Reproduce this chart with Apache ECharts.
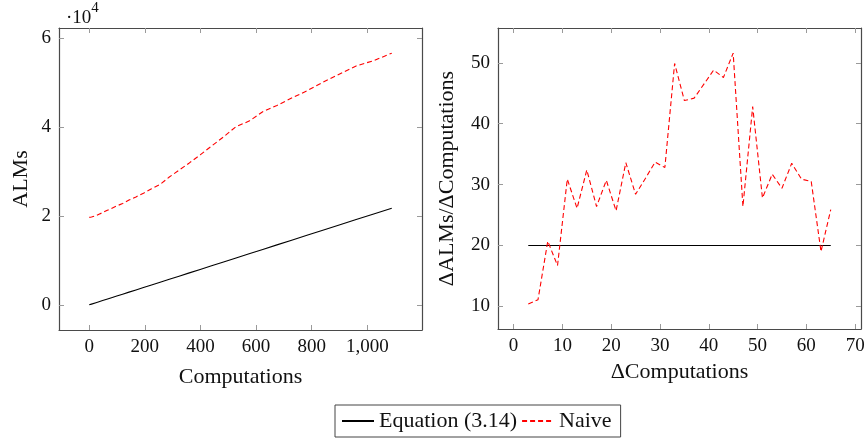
<!DOCTYPE html>
<html>
<head>
<meta charset="utf-8">
<script src="https://cdn.jsdelivr.net/npm/echarts@6/dist/echarts.min.js"></script>
<style>
  html, body { margin: 0; padding: 0; background: #fff; }
  #chart { width: 868px; height: 441px; }
</style>
</head>
<body>
<div id="chart"></div>
<script>
// Left panel: cumulative computations vs. ALMs
const computations = [0, 3, 8, 15, 24, 35, 48, 63, 80, 99, 120, 143, 168, 195, 224, 255, 288,
  323, 360, 399, 440, 483, 528, 575, 624, 675, 728, 783, 840, 899, 960, 1023, 1088];
const equationALMs = [0, 60, 160, 300, 480, 700, 960, 1260, 1600, 1980, 2400, 2860, 3360, 3900,
  4480, 5100, 5760, 6460, 7200, 7980, 8800, 9660, 10560, 11500, 12480, 13500, 14560, 15660,
  16800, 17980, 19200, 20460, 21760];
const naiveALMs = [19700, 19730, 19790, 19930, 20080, 20420, 20760, 21250, 21700, 22280, 22820,
  23600, 24310, 25150, 26120, 27140, 28790, 30320, 31960, 33770, 35770, 37820, 40140, 41380,
  43480, 44900, 46570, 48200, 50110, 51950, 53810, 55000, 56680];

// Right panel: step size vs. ALMs per computation
const deltaComputations = [3, 5, 7, 9, 11, 13, 15, 17, 19, 21, 23, 25, 27, 29, 31, 33, 35, 37,
  39, 41, 43, 45, 47, 49, 51, 53, 55, 57, 59, 61, 63, 65];
const equationRate = [20, 20, 20, 20, 20, 20, 20, 20, 20, 20, 20, 20, 20, 20, 20, 20, 20, 20,
  20, 20, 20, 20, 20, 20, 20, 20, 20, 20, 20, 20, 20, 20];
const naiveRate = [10.4, 11.1, 20.7, 16.7, 30.9, 26.1, 32.4, 26.4, 30.7, 25.7, 33.6, 28.4, 31.0,
  33.7, 32.8, 49.9, 43.8, 44.2, 46.5, 48.8, 47.6, 51.6, 26.4, 42.8, 27.8, 31.7, 29.4, 33.5,
  30.9, 30.5, 19.0, 25.9];

// Tick positions
const leftXTicks = [0, 200, 400, 600, 800, 1000];
const leftYTicks = [0, 20000, 40000, 60000];
const rightXTicks = [0, 10, 20, 30, 40, 50, 60, 70];
const rightYTicks = [10, 20, 30, 40, 50];

const FONT = '"Liberation Serif", "DejaVu Serif", serif';
const FRAME = '#4a4a4a';
const TICK = '#9a9a9a';

// pgfplots-style 10% enlargement of data limits
function enlarged(values) {
  const lo = Math.min(...values), hi = Math.max(...values);
  const pad = (hi - lo) * 0.1;
  return [lo - pad, hi + pad];
}
const pair = (xs, ys) => xs.map((x, i) => [x, ys[i]]);

const [lxMin, lxMax] = enlarged(computations);
const [lyMin, lyMax] = enlarged(equationALMs.concat(naiveALMs));
const [rxMin, rxMax] = enlarged(deltaComputations);
const [ryMin, ryMax] = enlarged(equationRate.concat(naiveRate));

function axis(opts) {
  const { gridIndex, position, min, max, ticks, labels, fmt, name, nameGap } = opts;
  return {
    type: 'value', gridIndex, position, min, max,
    name: name || '', nameLocation: 'middle', nameGap: nameGap || 0,
    nameTextStyle: { fontFamily: FONT, fontSize: 22, color: '#111' },
    axisLine: { show: true, onZero: false, lineStyle: { color: FRAME, width: 1.2 } },
    axisTick: { show: true, inside: true, length: 5, customValues: ticks,
      lineStyle: { color: TICK, width: 1 } },
    axisLabel: { show: !!labels, customValues: ticks, margin: 8, formatter: fmt,
      fontFamily: FONT, fontSize: 19, color: '#111' },
    splitLine: { show: false }
  };
}

const commaFmt = v => Math.round(v).toLocaleString('en-US');

const option = {
  animation: false,
  backgroundColor: '#fff',
  grid: [
    { left: 59, top: 28, width: 363, height: 302 },
    { left: 498, top: 28, width: 363, height: 301 }
  ],
  xAxis: [
    axis({ gridIndex: 0, position: 'bottom', min: lxMin, max: lxMax, ticks: leftXTicks,
      labels: true, fmt: commaFmt, name: 'Computations', nameGap: 36 }),
    axis({ gridIndex: 0, position: 'top', min: lxMin, max: lxMax, ticks: leftXTicks }),
    axis({ gridIndex: 1, position: 'bottom', min: rxMin, max: rxMax, ticks: rightXTicks,
      labels: true, fmt: v => String(v), name: '\u0394Computations', nameGap: 32 }),
    axis({ gridIndex: 1, position: 'top', min: rxMin, max: rxMax, ticks: rightXTicks })
  ],
  yAxis: [
    axis({ gridIndex: 0, position: 'left', min: lyMin, max: lyMax, ticks: leftYTicks,
      labels: true, fmt: v => String(Math.round(v / 1e4)), name: 'ALMs', nameGap: 27 }),
    axis({ gridIndex: 0, position: 'right', min: lyMin, max: lyMax, ticks: leftYTicks }),
    axis({ gridIndex: 1, position: 'left', min: ryMin, max: ryMax, ticks: rightYTicks,
      labels: true, fmt: v => String(v), name: '\u0394ALMs/\u0394Computations', nameGap: 40 }),
    axis({ gridIndex: 1, position: 'right', min: ryMin, max: ryMax, ticks: rightYTicks })
  ],
  legend: {
    data: ['Equation (3.14)', 'Naive'],
    left: 335, top: 405,
    orient: 'horizontal',
    padding: [5, 9, 5, 6],
    itemGap: 4,
    itemWidth: 32, itemHeight: 10,
    itemStyle: { opacity: 0 },
    borderColor: '#444', borderWidth: 1, borderRadius: 0,
    textStyle: { fontFamily: FONT, fontSize: 22, color: '#111' }
  },
  graphic: [{
    type: 'text', left: 66, top: 1,
    style: {
      text: '{a|\u00b710}{b|4}',
      rich: {
        a: { fontFamily: FONT, fontSize: 19, fill: '#111', verticalAlign: 'bottom', padding: [8, 0, 0, 0] },
        b: { fontFamily: FONT, fontSize: 15, fill: '#111', verticalAlign: 'top' }
      }
    }
  }],
  series: [
    { name: 'Equation (3.14)', type: 'line', xAxisIndex: 0, yAxisIndex: 0,
      data: pair(computations, equationALMs), symbol: 'none',
      lineStyle: { color: '#000', width: 1.1 }, itemStyle: { color: '#000' } },
    { name: 'Naive', type: 'line', xAxisIndex: 0, yAxisIndex: 0,
      data: pair(computations, naiveALMs), symbol: 'none',
      lineStyle: { color: '#ff0000', width: 1.1, type: [5, 3] }, itemStyle: { color: '#ff0000' } },
    { name: 'Equation (3.14)', type: 'line', xAxisIndex: 2, yAxisIndex: 2,
      data: pair(deltaComputations, equationRate), symbol: 'none',
      lineStyle: { color: '#000', width: 1.1 }, itemStyle: { color: '#000' } },
    { name: 'Naive', type: 'line', xAxisIndex: 2, yAxisIndex: 2,
      data: pair(deltaComputations, naiveRate), symbol: 'none',
      lineStyle: { color: '#ff0000', width: 1.1, type: [5, 3] }, itemStyle: { color: '#ff0000' } }
  ]
};

const chart = echarts.init(document.getElementById('chart'), null, { renderer: 'canvas' });
chart.setOption(option);
</script>
</body>
</html>
